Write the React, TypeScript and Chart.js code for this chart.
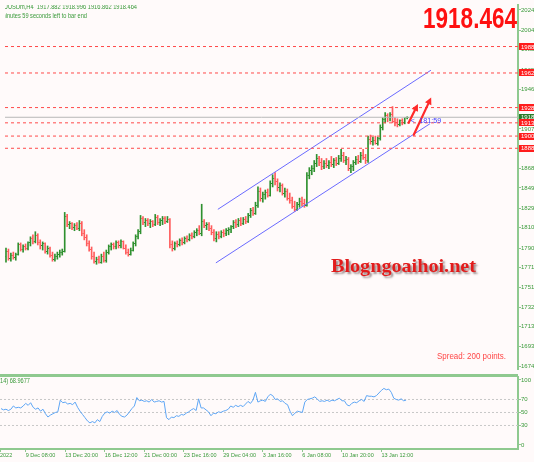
import React, { useEffect, useRef } from 'react';
import { Chart, registerables } from 'chart.js';
Chart.register(...registerables);

// ---------- data (H4 bars, XAUUSDm) ----------
const opens = [
  1782, 1787, 1780, 1783, 1781, 1784, 1793, 1789, 1791, 1790,
  1795, 1799, 1796, 1802, 1795, 1792, 1794, 1787, 1790, 1783,
  1779, 1782, 1784, 1786, 1787, 1821, 1813, 1814, 1810, 1812,
  1809, 1814, 1804, 1800, 1794, 1789, 1782, 1777, 1779, 1776,
  1782, 1778, 1786, 1791, 1793, 1791, 1795, 1792, 1796, 1790,
  1786, 1784, 1788, 1794, 1801, 1806, 1819, 1815, 1817, 1814,
  1816, 1813, 1820, 1815, 1817, 1819, 1816, 1818, 1793, 1790,
  1794, 1793, 1797, 1795, 1799, 1798, 1802, 1801, 1805, 1807,
  1804, 1816, 1812, 1813, 1809, 1805, 1799, 1803, 1801, 1805,
  1804, 1807, 1808, 1811, 1815, 1813, 1817, 1814, 1818, 1816,
  1822, 1827, 1824, 1832, 1846, 1839, 1843, 1845, 1842, 1853,
  1858, 1855, 1849, 1851, 1844, 1846, 1839, 1837, 1831, 1828,
  1833, 1836, 1834, 1832, 1861, 1866, 1868, 1873, 1878, 1874,
  1870, 1873, 1871, 1874, 1872, 1876, 1873, 1878, 1881, 1876,
  1877, 1868, 1870, 1874, 1877, 1875, 1881, 1879, 1876, 1897,
  1895, 1896, 1893, 1898, 1908, 1916, 1920, 1918, 1921, 1914,
  1913, 1911, 1915, 1913, 1917.882,
];
const highs = [
  1790, 1789, 1785, 1786, 1785, 1795, 1795, 1793, 1794, 1796,
  1801, 1803, 1806, 1804, 1798, 1796, 1795, 1792, 1791, 1786,
  1784, 1786, 1788, 1789, 1825, 1823, 1816, 1815, 1814, 1815,
  1817, 1816, 1808, 1803, 1797, 1791, 1786, 1781, 1782, 1784,
  1786, 1788, 1793, 1795, 1795, 1797, 1797, 1798, 1797, 1793,
  1789, 1790, 1796, 1803, 1808, 1822, 1821, 1819, 1819, 1818,
  1817, 1823, 1822, 1819, 1821, 1821, 1821, 1819, 1797, 1796,
  1797, 1799, 1800, 1801, 1802, 1804, 1805, 1807, 1809, 1812,
  1833, 1818, 1815, 1815, 1812, 1808, 1806, 1806, 1807, 1808,
  1809, 1810, 1812, 1817, 1818, 1819, 1820, 1820, 1821, 1824,
  1829, 1830, 1835, 1850, 1849, 1845, 1847, 1848, 1856, 1862,
  1864, 1858, 1854, 1853, 1849, 1848, 1844, 1840, 1836, 1835,
  1839, 1840, 1838, 1864, 1869, 1871, 1876, 1882, 1880, 1878,
  1876, 1878, 1876, 1880, 1878, 1879, 1881, 1887, 1884, 1880,
  1879, 1872, 1876, 1880, 1881, 1884, 1887, 1882, 1900, 1901,
  1899, 1900, 1899, 1911, 1918, 1923, 1922, 1923, 1929, 1918,
  1917, 1916, 1917, 1918, 1918.996,
];
const lows = [
  1776, 1778, 1777, 1779, 1778, 1783, 1787, 1786, 1788, 1788,
  1792, 1794, 1795, 1793, 1789, 1788, 1785, 1784, 1781, 1777,
  1777, 1779, 1781, 1783, 1786, 1811, 1809, 1808, 1807, 1808,
  1807, 1802, 1798, 1792, 1787, 1779, 1775, 1774, 1775, 1775,
  1776, 1776, 1784, 1788, 1789, 1789, 1790, 1790, 1789, 1784,
  1782, 1783, 1787, 1792, 1799, 1804, 1813, 1811, 1812, 1810,
  1811, 1812, 1813, 1812, 1813, 1814, 1815, 1790, 1787, 1788,
  1791, 1792, 1793, 1794, 1796, 1797, 1799, 1800, 1802, 1803,
  1802, 1810, 1808, 1807, 1803, 1797, 1796, 1799, 1800, 1801,
  1802, 1803, 1805, 1809, 1810, 1811, 1812, 1813, 1814, 1815,
  1820, 1822, 1823, 1830, 1836, 1835, 1838, 1840, 1841, 1850,
  1852, 1846, 1845, 1842, 1840, 1837, 1834, 1829, 1826, 1827,
  1830, 1831, 1830, 1831, 1858, 1862, 1865, 1870, 1871, 1867,
  1868, 1869, 1868, 1870, 1869, 1871, 1872, 1875, 1874, 1872,
  1866, 1864, 1866, 1872, 1873, 1874, 1877, 1873, 1874, 1892,
  1891, 1892, 1891, 1896, 1906, 1913, 1914, 1915, 1913, 1910,
  1909, 1910, 1911, 1912, 1916.862,
];
const closes = [
  1787, 1780, 1783, 1781, 1784, 1793, 1789, 1791, 1790, 1795,
  1799, 1796, 1802, 1795, 1792, 1794, 1787, 1790, 1783, 1779,
  1782, 1784, 1786, 1787, 1821, 1813, 1814, 1810, 1812, 1809,
  1814, 1804, 1800, 1794, 1789, 1782, 1777, 1779, 1776, 1782,
  1778, 1786, 1791, 1793, 1791, 1795, 1792, 1796, 1790, 1786,
  1784, 1788, 1794, 1801, 1806, 1819, 1815, 1817, 1814, 1816,
  1813, 1820, 1815, 1817, 1819, 1816, 1818, 1793, 1790, 1794,
  1793, 1797, 1795, 1799, 1798, 1802, 1801, 1805, 1807, 1804,
  1816, 1812, 1813, 1809, 1805, 1799, 1803, 1801, 1805, 1804,
  1807, 1808, 1811, 1815, 1813, 1817, 1814, 1818, 1816, 1822,
  1827, 1824, 1832, 1846, 1839, 1843, 1845, 1842, 1853, 1858,
  1855, 1849, 1851, 1844, 1846, 1839, 1837, 1831, 1828, 1833,
  1836, 1834, 1832, 1861, 1866, 1868, 1873, 1878, 1874, 1870,
  1873, 1871, 1874, 1872, 1876, 1873, 1878, 1881, 1876, 1877,
  1868, 1870, 1874, 1877, 1875, 1881, 1879, 1876, 1897, 1895,
  1896, 1893, 1898, 1908, 1916, 1920, 1918, 1921, 1914, 1913,
  1911, 1915, 1913, 1917.882, 1918.464,
];
const rsiValues = [
  56, 54, 55, 53, 55, 60, 57, 58, 57, 60,
  64, 61, 65, 58, 55, 57, 52, 55, 48, 43,
  46, 48, 50, 51, 69, 65, 66, 63, 64, 62,
  66, 58, 52, 47, 42, 37, 34, 36, 34, 39,
  36, 44, 49, 51, 49, 52, 50, 53, 47, 44,
  43, 46, 51, 56, 60, 73, 68, 69, 67, 68,
  66, 70, 66, 67, 68, 66, 67, 42, 39, 43,
  42, 45, 44, 47, 46, 49, 51, 54, 56, 53,
  71, 57, 57, 54, 51, 45, 49, 48, 51, 50,
  52, 53, 55, 60, 58, 61, 59, 61, 59, 63,
  67, 64, 69, 81, 66, 68, 69, 67, 74, 78,
  76, 70, 71, 67, 68, 64, 62, 52, 45, 49,
  52, 51, 50, 66, 70, 71, 72, 74, 71, 67,
  68, 67, 69, 67, 69, 68, 70, 72, 68, 68,
  62, 60, 64, 66, 65, 68, 70, 67, 76, 75,
  75, 74, 76, 80, 84, 87, 85, 86, 81, 72,
  70, 69, 71, 68, 68.9677,
];

const priceTicks = [1674, 1693, 1713, 1732, 1751, 1771, 1790, 1810, 1829, 1849, 1868, 1888, 1907, 1926, 1946, 1965, 1985, 2004, 2024];
const rsiTicks = [0, 30, 50, 70, 100];
const rsiLevels = [30, 50, 70];
const levelPrices = [1988, 1962, 1928, 1913, 1900, 1888];
const currentPrice = 1918.464;
const timeTickIndex = [10, 26, 42, 58, 74, 90, 106, 122, 138, 154];
const timeTickLabels = ['9 Dec 08:00', '13 Dec 20:00', '16 Dec 12:00', '21 Dec 00:00', '23 Dec 16:00', '29 Dec 04:00', '3 Jan 16:00', '6 Jan 08:00', '10 Jan 20:00', '13 Jan 12:00'];
const firstTimeLabel = '2022';
const channelUpper = [{ x: 86.6, y: 1828.0 }, { x: 173.7, y: 1964.7 }];
const channelLower = [{ x: 85.8, y: 1775.4 }, { x: 173.3, y: 1912.1 }];
const arrowTails = [{ x: 164.6, y: 1913.1 }, { x: 166.7, y: 1901.3 }];
const arrowHeads = [{ x: 168.4, y: 1931.5 }, { x: 173.8, y: 1937.9 }];

// ---------- axis ranges / styles ----------
const X_MIN = -0.405;
const X_MAX = 209.3;
const PRICE_MIN = 1671.1;
const PRICE_MAX = 2028.8;
const RSI_MIN = -6.2;
const RSI_MAX = 104.6;
const AXIS_GREEN = '#8fc98f';
const TEXT_GREEN = '#3a9a3a';
const BAR_GREEN = '#2f902f';
const BAR_RED = '#ff5c5c';
const FONT = '"Liberation Sans", Arial, sans-serif';

function makeTick(color: string, left: boolean) {
  const c = document.createElement('canvas');
  c.width = 3;
  c.height = 1;
  const g = c.getContext('2d')!;
  g.fillStyle = color;
  g.fillRect(left ? 0 : 2, 0, 1, 1);
  return c;
}

function fitText(ctx: CanvasRenderingContext2D, text: string, x: number, y: number, font: string, color: string, width: number, align: CanvasTextAlign = 'left') {
  ctx.save();
  ctx.font = font;
  const w = ctx.measureText(text).width;
  const s = width / w;
  ctx.translate(x, y);
  ctx.scale(s, 1);
  ctx.fillStyle = color;
  ctx.textAlign = align;
  ctx.textBaseline = 'alphabetic';
  ctx.fillText(text, 0, 0);
  ctx.restore();
}

function drawArrow(ctx: CanvasRenderingContext2D, x1: number, y1: number, x2: number, y2: number) {
  const ang = Math.atan2(y2 - y1, x2 - x1);
  const hl = 7, hw = 3.5;
  const bx = x2 - hl * Math.cos(ang);
  const by = y2 - hl * Math.sin(ang);
  ctx.strokeStyle = '#ff2a2a';
  ctx.fillStyle = '#ff2a2a';
  ctx.lineWidth = 2.2;
  ctx.lineCap = 'round';
  ctx.beginPath();
  ctx.moveTo(x1, y1);
  ctx.lineTo(bx, by);
  ctx.stroke();
  ctx.beginPath();
  ctx.moveTo(x2, y2);
  ctx.lineTo(bx + hw * Math.sin(ang), by - hw * Math.cos(ang));
  ctx.lineTo(bx - hw * Math.sin(ang), by + hw * Math.cos(ang));
  ctx.closePath();
  ctx.fill();
}

export default function App() {
  const mainRef = useRef<HTMLCanvasElement>(null);
  const rsiRef = useRef<HTMLCanvasElement>(null);

  useEffect(() => {
    document.body.style.margin = '0';
    const n = closes.length;
    const idx = closes.map((_, i) => i);
    const isUp = (i: number) => closes[i] >= opens[i];
    const openG = makeTick(BAR_GREEN, true), openR = makeTick(BAR_RED, true);
    const closeG = makeTick(BAR_GREEN, false), closeR = makeTick(BAR_RED, false);

    const mainOverlay = {
      id: 'mainOverlay',
      afterDraw(chart: any) {
        const { ctx, chartArea, scales } = chart;
        const xs = scales.x, ys = scales.y;
        ctx.save();
        ctx.beginPath();
        ctx.rect(chartArea.left, chartArea.top, chartArea.right - chartArea.left, chartArea.bottom - chartArea.top);
        ctx.clip();
        arrowTails.forEach((t, k) => {
          const h = arrowHeads[k];
          drawArrow(ctx, xs.getPixelForValue(t.x), ys.getPixelForValue(t.y), xs.getPixelForValue(h.x), ys.getPixelForValue(h.y));
        });
        // countdown label next to last bar
        const lx = xs.getPixelForValue(n - 1);
        const ly = ys.getPixelForValue(closes[n - 1]) + 6;
        fitText(ctx, '<', lx + 3.5, ly, '7px ' + FONT, '#4040ff', 4);
        fitText(ctx, '181:59', lx + 12, ly, '7.5px ' + FONT, '#4040ff', 22);
        // chart shift marker
        ctx.fillStyle = '#8c8c8c';
        ctx.beginPath();
        ctx.moveTo(lx + 2, 0);
        ctx.lineTo(lx + 8, 0);
        ctx.lineTo(lx + 5, 4);
        ctx.closePath();
        ctx.fill();
        // header texts
        const hf = '7.5px ' + FONT;
        ctx.font = hf;
        const full = 'XAUUSDm,H4  1917.882 1918.996 1916.862 1918.464';
        const wFull = ctx.measureText(full).width;
        const wX = ctx.measureText('X').width;
        const s = 137 / (wFull - wX);
        fitText(ctx, full, -wX * s, 9, hf, TEXT_GREEN, wFull * s);
        fitText(ctx, 'minutes 59 seconds left to bar end', 1, 17.5, hf, TEXT_GREEN, 86);
        // big price
        fitText(ctx, '1918.464', 517, 28, 'bold 30px ' + FONT, '#ff1010', 94, 'right');
        // watermark
        ctx.save();
        ctx.shadowColor = 'rgba(60,30,30,0.5)';
        ctx.shadowOffsetX = 2;
        ctx.shadowOffsetY = 2;
        ctx.shadowBlur = 2;
        fitText(ctx, 'Blogngoaihoi.net', 331, 272, 'bold 19px "Liberation Serif", serif', '#e21c1c', 145);
        ctx.restore();
        fitText(ctx, 'Spread: 200 points.', 506, 359, '9px ' + FONT, '#ff4646', 69, 'right');
        ctx.restore();

        // price label boxes on the axis
        ctx.save();
        const bx = chartArea.right + 1;
        const drawBox = (p: number, txt: string, bg: string) => {
          const yy = ys.getPixelForValue(p);
          ctx.fillStyle = bg;
          ctx.fillRect(bx, Math.round(yy - 3.5), 534 - bx, 7);
          ctx.fillStyle = '#ffffff';
          ctx.font = '6px ' + FONT;
          ctx.textAlign = 'left';
          ctx.textBaseline = 'middle';
          ctx.fillText(txt, bx + 2, yy + 0.5);
        };
        drawBox(currentPrice, String(Math.floor(currentPrice)), '#2a7d2a');
        levelPrices.forEach((p) => drawBox(p, String(p), '#ff1c1c'));
        ctx.restore();
      },
    };

    const mainChart = new Chart(mainRef.current!, {
      type: 'bar',
      data: {
        datasets: [
          ...levelPrices.map((p) => ({
            type: 'line' as const,
            data: [{ x: X_MIN, y: p }, { x: X_MAX, y: p }],
            borderColor: '#ff4a4a',
            borderWidth: 1,
            borderDash: [3, 3],
            pointRadius: 0,
            order: 0,
          })),
          {
            type: 'line' as const,
            data: [{ x: X_MIN, y: currentPrice }, { x: X_MAX, y: currentPrice }],
            borderColor: '#b8b8b8',
            borderWidth: 1,
            pointRadius: 0,
            order: 0,
          },
          {
            type: 'line' as const,
            data: channelUpper,
            borderColor: '#6a6aff',
            borderWidth: 1,
            pointRadius: 0,
            order: 0,
          },
          {
            type: 'line' as const,
            data: channelLower,
            borderColor: '#6a6aff',
            borderWidth: 1,
            pointRadius: 0,
            order: 0,
          },
          {
            type: 'scatter' as const,
            data: idx.map((i) => ({ x: i, y: opens[i] })),
            pointStyle: (c: any) => (c.dataIndex !== undefined && !isUp(c.dataIndex) ? openR : openG),
            pointRadius: 1,
            pointHitRadius: 0,
            order: 1,
          },
          {
            type: 'scatter' as const,
            data: idx.map((i) => ({ x: i, y: closes[i] })),
            pointStyle: (c: any) => (c.dataIndex !== undefined && !isUp(c.dataIndex) ? closeR : closeG),
            pointRadius: 1,
            pointHitRadius: 0,
            order: 1,
          },
          {
            type: 'bar' as const,
            data: idx.map((i) => ({ x: i, y: [lows[i], highs[i]] })),
            backgroundColor: idx.map((i) => (isUp(i) ? BAR_GREEN : BAR_RED)),
            borderWidth: 0,
            barThickness: 1,
            order: 2,
          },
        ] as any,
      },
      options: {
        responsive: false,
        maintainAspectRatio: false,
        animation: false,
        events: [],
        layout: { padding: 0 },
        plugins: { legend: { display: false }, tooltip: { enabled: false } },
        scales: {
          x: { type: 'linear', min: X_MIN, max: X_MAX, display: false, offset: false },
          y: {
            type: 'linear',
            position: 'right',
            min: PRICE_MIN,
            max: PRICE_MAX,
            afterBuildTicks: (sc: any) => { sc.ticks = priceTicks.map((v) => ({ value: v })); },
            afterFit: (sc: any) => { sc.width = 16; sc.paddingTop = 0; sc.paddingBottom = 0; },
            grid: { drawOnChartArea: false, drawTicks: true, tickLength: 3, color: AXIS_GREEN },
            border: { color: AXIS_GREEN, width: 2 },
            ticks: { font: { size: 6, family: FONT }, color: TEXT_GREEN, padding: 0, callback: (v: any) => String(v) },
          },
        },
      } as any,
      plugins: [mainOverlay],
    });

    const rsiOverlay = {
      id: 'rsiOverlay',
      afterDraw(chart: any) {
        const { ctx, chartArea } = chart;
        ctx.save();
        ctx.fillStyle = AXIS_GREEN;
        ctx.fillRect(0, 0, chartArea.right, 3);
        const rf = '7px ' + FONT;
        ctx.font = rf;
        const full = 'RSI(14) 68.9677';
        const wFull = ctx.measureText(full).width;
        const wPre = ctx.measureText('RSI(').width;
        const s = 30 / (wFull - wPre);
        fitText(ctx, full, -wPre * s, 8.5, rf, TEXT_GREEN, wFull * s);
        ctx.restore();
      },
    };

    const xTickValues = [X_MIN, ...timeTickIndex];
    const xTickText = [firstTimeLabel, ...timeTickLabels];

    const rsiChart = new Chart(rsiRef.current!, {
      type: 'line',
      data: {
        datasets: [
          ...rsiLevels.map((lv) => ({
            data: [{ x: X_MIN, y: lv }, { x: X_MAX, y: lv }],
            borderColor: '#c8c8c8',
            borderWidth: 1,
            borderDash: [2, 2],
            pointRadius: 0,
            order: 1,
          })),
          {
            data: idx.map((i) => ({ x: i, y: rsiValues[i] })),
            borderColor: '#5ea6f5',
            borderWidth: 1,
            pointRadius: 0,
            tension: 0,
            order: 0,
          },
        ],
      },
      options: {
        responsive: false,
        maintainAspectRatio: false,
        animation: false,
        events: [],
        layout: { padding: { top: 3, left: 0, right: 0, bottom: 0 } },
        plugins: { legend: { display: false }, tooltip: { enabled: false } },
        scales: {
          x: {
            type: 'linear',
            min: X_MIN,
            max: X_MAX,
            offset: false,
            afterBuildTicks: (sc: any) => { sc.ticks = xTickValues.map((v) => ({ value: v })); },
            afterFit: (sc: any) => { sc.height = 13; sc.paddingLeft = 0; sc.paddingRight = 0; },
            grid: { drawOnChartArea: false, drawTicks: true, tickLength: 3, color: AXIS_GREEN },
            border: { color: AXIS_GREEN, width: 2 },
            ticks: {
              autoSkip: false,
              maxRotation: 0,
              minRotation: 0,
              align: 'start',
              padding: 0,
              font: { size: 5.5, family: FONT },
              color: TEXT_GREEN,
              callback: (_v: any, i: number) => xTickText[i],
            },
          },
          y: {
            type: 'linear',
            position: 'right',
            min: RSI_MIN,
            max: RSI_MAX,
            afterBuildTicks: (sc: any) => { sc.ticks = rsiTicks.map((v) => ({ value: v })); },
            afterFit: (sc: any) => { sc.width = 16; sc.paddingTop = 0; sc.paddingBottom = 0; },
            grid: { drawOnChartArea: false, drawTicks: true, tickLength: 3, color: AXIS_GREEN },
            border: { color: AXIS_GREEN, width: 2 },
            ticks: { font: { size: 6, family: FONT }, color: TEXT_GREEN, padding: 0, callback: (v: any) => String(v) },
          },
        },
      } as any,
      plugins: [rsiOverlay],
    });

    return () => {
      mainChart.destroy();
      rsiChart.destroy();
    };
  }, []);

  return (
    <div style={{ position: 'absolute', left: 0, top: 0, width: 534, height: 462, background: '#fffafa', overflow: 'hidden' }}>
      <canvas ref={mainRef} width={534} height={374} style={{ position: 'absolute', left: 0, top: 0, width: 534, height: 374 }} />
      <canvas ref={rsiRef} width={534} height={88} style={{ position: 'absolute', left: 0, top: 374, width: 534, height: 88 }} />
    </div>
  );
}
